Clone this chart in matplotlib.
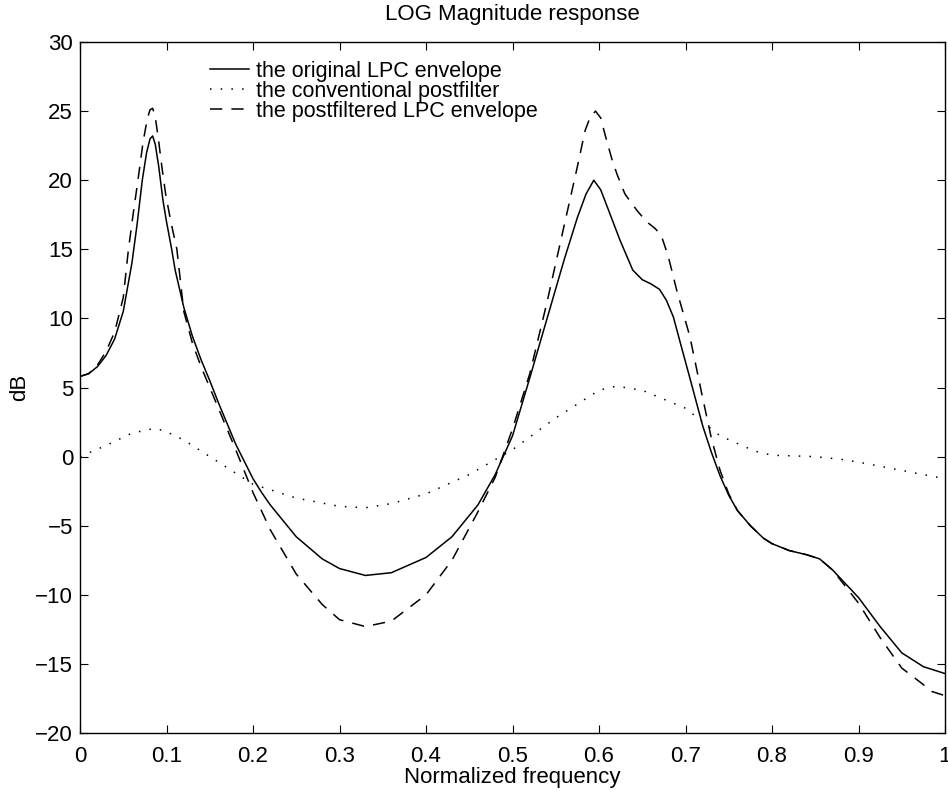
import matplotlib
matplotlib.use("Agg")
import matplotlib.pyplot as plt

plt.rcParams['font.family'] = ['Liberation Sans', 'DejaVu Sans']

# Original LPC envelope
x_orig = [0.0, 0.01, 0.02, 0.03, 0.04, 0.05, 0.06, 0.066, 0.072, 0.077, 0.081, 0.084, 0.087,
          0.091, 0.096, 0.1, 0.106, 0.11, 0.12, 0.13,
          0.14, 0.15, 0.16, 0.18, 0.2, 0.21, 0.22, 0.25, 0.28, 0.3, 0.33, 0.36, 0.4, 0.43, 0.46,
          0.48, 0.5, 0.52, 0.54, 0.56, 0.575, 0.585, 0.594, 0.602, 0.61, 0.624, 0.639, 0.65,
          0.66, 0.67, 0.678, 0.686, 0.695, 0.705, 0.72, 0.73, 0.74, 0.75, 0.76, 0.775, 0.79,
          0.8, 0.82, 0.84, 0.855, 0.87, 0.885, 0.9, 0.925, 0.95, 0.975, 1.0]
y_orig = [5.8, 6.0, 6.5, 7.3, 8.5, 10.5, 14.0, 16.8, 20.0, 22.0, 23.0, 23.2, 22.6,
          21.0, 18.5, 17.0, 15.0, 13.5, 10.8, 8.7,
          7.0, 5.5, 3.9, 0.9, -1.6, -2.6, -3.5, -5.8, -7.4, -8.1, -8.6, -8.4, -7.3, -5.8, -3.5,
          -1.3, 1.5, 5.7, 10.0, 14.3, 17.3, 19.0, 20.0, 19.3, 18.0, 15.7, 13.5, 12.8,
          12.5, 12.1, 11.3, 10.1, 8.0, 5.7, 2.2, 0.3, -1.4, -2.8, -3.9, -5.0, -5.9,
          -6.3, -6.8, -7.1, -7.4, -8.2, -9.2, -10.2, -12.3, -14.2, -15.2, -15.7]

# Conventional postfilter
x_post = [0.0, 0.03, 0.06, 0.087, 0.1, 0.12, 0.15, 0.17, 0.2, 0.25, 0.3, 0.33, 0.36,
          0.4, 0.45, 0.5, 0.55, 0.6, 0.62, 0.65, 0.7, 0.74, 0.78, 0.8, 0.85, 0.88,
          0.9, 0.95, 1.0]
y_post = [0.0, 0.8, 1.7, 2.05, 1.8, 1.2, 0.0, -0.8, -2.0, -3.0, -3.6, -3.7, -3.4,
          -2.7, -1.3, 0.5, 2.8, 4.8, 5.1, 4.8, 3.5, 1.5, 0.4, 0.1, 0.0, -0.2,
          -0.4, -1.0, -1.6]

# Postfiltered LPC envelope
x_pf = [0.0, 0.01, 0.02, 0.03, 0.04, 0.05, 0.056, 0.062, 0.067, 0.073, 0.078, 0.081, 0.084,
        0.087, 0.091, 0.095, 0.099, 0.105, 0.112, 0.12, 0.13,
        0.14, 0.156, 0.18, 0.2, 0.22, 0.25, 0.28, 0.3, 0.33, 0.36, 0.4, 0.43, 0.46,
        0.48, 0.5, 0.52, 0.54, 0.56, 0.574, 0.584, 0.59, 0.596, 0.602, 0.607, 0.615, 0.621,
        0.63, 0.644, 0.655, 0.665, 0.672, 0.68, 0.69, 0.705, 0.713, 0.72, 0.73, 0.74, 0.75,
        0.76, 0.775, 0.79, 0.8, 0.82, 0.84, 0.855, 0.87, 0.885, 0.9, 0.925, 0.95, 0.975,
        0.985, 1.0]
y_pf = [5.8, 6.0, 6.6, 7.6, 9.0, 11.5, 15.0, 17.8, 20.0, 22.8, 24.5, 25.1, 25.2,
        24.6, 22.8, 20.8, 19.0, 17.0, 15.0, 10.5, 8.2,
        6.5, 4.1, 0.5, -2.6, -5.3, -8.5, -10.7, -11.8, -12.3, -11.9, -10.0, -7.5, -4.0,
        -1.5, 2.0, 6.0, 11.2, 16.8, 20.7, 23.6, 24.6, 25.0, 24.5, 23.3, 21.5, 20.4,
        19.0, 17.8, 17.0, 16.5, 16.0, 14.5, 12.0, 8.7, 6.3, 4.2, 1.3, -1.0, -2.7,
        -3.9, -5.0, -5.9, -6.3, -6.8, -7.1, -7.4, -8.2, -9.4, -10.6, -13.1, -15.3, -16.5,
        -17.0, -17.3]

fig = plt.figure(figsize=(9.48, 7.92), dpi=100)
ax = fig.add_axes([80/948, 1-733/792, (945-80)/948, (733-42)/792])

ax.plot(x_orig, y_orig, color='black', lw=1.1, ls='-', label='the original LPC envelope')
ax.plot(x_post, y_post, color='black', lw=1.1, ls=(0, (1, 6)), label='the conventional postfilter')
ax.plot(x_pf, y_pf, color='black', lw=1.1, ls=(0, (8, 6)), label='the postfiltered LPC envelope')

ax.set_xlim(0, 1)
ax.set_ylim(-20, 30)
ax.set_xticks([0, 0.1, 0.2, 0.3, 0.4, 0.5, 0.6, 0.7, 0.8, 0.9, 1])
ax.set_xticklabels(['0', '0.1', '0.2', '0.3', '0.4', '0.5', '0.6', '0.7', '0.8', '0.9', '1'])
ax.set_yticks(range(-20, 31, 5))
ax.tick_params(direction='in', top=True, right=True, length=6, width=0.8, labelsize=16)
ax.tick_params(axis='x', pad=9)
ax.tick_params(axis='y', pad=5)
for s in ax.spines.values():
    s.set_linewidth(1.0)

ax.set_xlabel('Normalized frequency', fontsize=16, labelpad=0)
ax.set_ylabel('dB', fontsize=16, labelpad=4)
ax.set_title('LOG Magnitude response', fontsize=16, pad=16)

leg = ax.legend(loc='upper left', bbox_to_anchor=(121/865, 0.985), frameon=False,
                fontsize=15.5, handlelength=1.85, handletextpad=0.3, labelspacing=-0.05,
                borderaxespad=0)

fig.savefig('out.png', dpi=100)
